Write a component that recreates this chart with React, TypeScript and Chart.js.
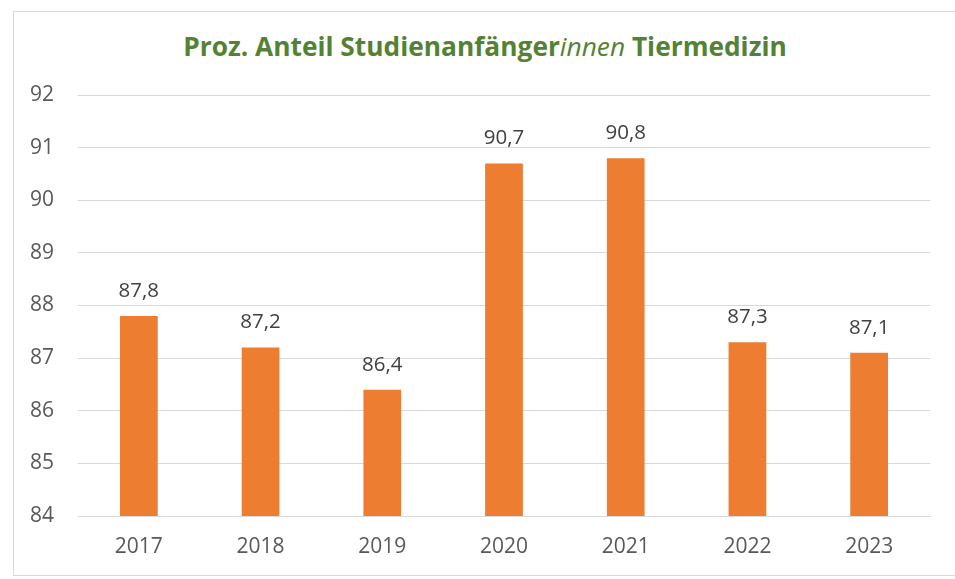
import React, { useEffect, useRef } from "react";
import { Chart, registerables } from "chart.js";

Chart.register(...registerables);

const years = ["2017", "2018", "2019", "2020", "2021", "2022", "2023"];
const shares = [87.8, 87.2, 86.4, 90.7, 90.8, 87.3, 87.1];
const yMin = 84;
const yMax = 92;

const fmt = (v: number) => v.toFixed(1).replace(".", ",");

const labelPlugin = {
  id: "barLabels",
  afterDatasetsDraw(chart: any) {
    const ctx = chart.ctx;
    const meta = chart.getDatasetMeta(0);
    ctx.save();
    ctx.font = "20.5px 'Open Sans'";
    ctx.fillStyle = "#404040";
    ctx.textAlign = "center";
    ctx.textBaseline = "middle";
    meta.data.forEach((bar: any, i: number) => {
      ctx.fillText(fmt(shares[i]), bar.x, bar.y - 25);
    });
    ctx.restore();
  },
};

export default function App() {
  const ref = useRef<HTMLCanvasElement | null>(null);
  useEffect(() => {
    if (!ref.current) return;
    const chart = new Chart(ref.current, {
      type: "bar",
      data: {
        labels: years,
        datasets: [
          {
            data: shares,
            backgroundColor: "#ED7D31",
            categoryPercentage: 1,
            barPercentage: 0.31,
          },
        ],
      },
      options: {
        animation: false,
        responsive: false,
        maintainAspectRatio: false,
        layout: { padding: { top: 95, right: 25, bottom: 0, left: 0 } },
        plugins: { legend: { display: false }, tooltip: { enabled: false }, title: { display: false } },
        scales: {
          x: {
            grid: { display: false, drawTicks: false },
            border: { display: true, color: "#d9d9d9", width: 1 },
            ticks: { color: "#595959", font: { family: "'Open Sans'", size: 21 }, padding: 18 },
            afterFit(scale: any) {
              scale.height = 63;
            },
          },
          y: {
            min: yMin,
            max: yMax,
            grid: { color: "#d9d9d9", lineWidth: 1, drawTicks: false },
            border: { display: false },
            ticks: { stepSize: 1, color: "#595959", font: { family: "'Open Sans'", size: 21 }, padding: 24 },
            afterFit(scale: any) {
              scale.width = 78;
            },
          },
        },
      },
      plugins: [labelPlugin],
    });
    return () => chart.destroy();
  }, []);

  return (
    <div style={{ position: "fixed", left: 0, top: 0, width: 955, height: 579, background: "#fff", overflow: "hidden" }}>
      <div
        style={{
          position: "absolute",
          left: 13,
          top: 11,
          width: 1000,
          height: 565,
          border: "1px solid #d9d9d9",
          boxSizing: "border-box",
        }}
      />
      <div
        style={{
          position: "absolute",
          left: 0,
          width: 970,
          top: 28,
          textAlign: "center",
          fontFamily: "'Open Sans'",
          fontWeight: 700,
          fontSize: 26.3,
          color: "#548235",
          lineHeight: "36px",
          whiteSpace: "nowrap",
        }}
      >
        Proz. Anteil Studienanfänger<span style={{ fontWeight: 400, fontStyle: "italic" }}>innen</span> Tiermedizin
      </div>
      <canvas ref={ref} width={955} height={579} style={{ position: "absolute", left: 0, top: 0, width: 955, height: 579 }} />
    </div>
  );
}
